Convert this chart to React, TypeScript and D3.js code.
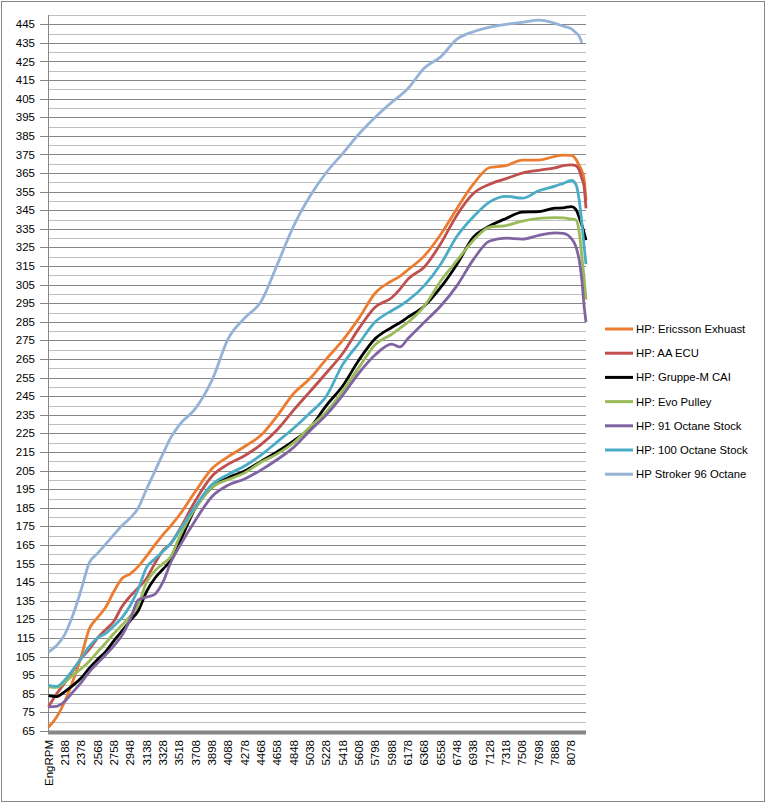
import { useEffect } from 'react'
import * as d3 from 'd3'

// engine rpm of each sample (shared by all runs)
const rpm = [
  1998, 2093, 2188, 2283, 2378, 2473, 2568, 2663, 2758, 2853, 2948, 3043, 3138, 3233, 3328, 3423,
  3518, 3708, 3898, 4088, 4278, 4468, 4658, 4848, 5038, 5228, 5418, 5608, 5798, 5988, 6083, 6178,
  6368, 6558, 6748, 6938, 7128, 7318, 7508, 7698, 7888, 7983, 8078, 8130, 8170, 8200, 8225, 8248,
]

const ericsson = [
  67, 72.5, 81, 92, 105, 120, 126, 131.5, 140, 147, 149.5, 153.5, 159, 165, 170.5, 175.5,
  181, 194, 206, 212.5, 218, 224, 234.5, 246.5, 254.5, 265, 275, 287, 300.5, 307, 309.5, 313,
  320.5, 332, 346, 359, 368, 369, 372, 372, 374, 374.7, 374.5, 372.5, 369, 366, 362, 350,
]
const aaEcu = [
  78, 85, 91, 97.5, 104, 109, 115, 119.5, 124, 132, 137.5, 142, 147, 155, 162, 166,
  173, 189, 202, 208.5, 213, 219, 227, 237.5, 247.5, 257.5, 268, 281.5, 293, 298, 302.5, 308,
  314.5, 327, 342.5, 354, 359, 362, 365, 366.5, 367.8, 369, 369.4, 369, 366.5, 362, 358, 346,
]
const gruppeM = [
  84, 83.5, 86.2, 89.5, 93.5, 98.8, 103.5, 107.7, 113.5, 118.8, 124.3, 129.8, 140, 147, 152, 157,
  166, 185, 196, 201.2, 204.8, 210, 215.2, 221, 228, 240, 250.5, 264.5, 276, 282, 284.5, 287.5,
  293.5, 303.5, 316, 330.5, 336.5, 340.6, 344, 344.3, 346.1, 346.3, 347, 345.5, 341, 337, 333, 329,
]
const evoPulley = [
  88.8, 88.5, 91.3, 95, 98.5, 102.5, 107.5, 112.3, 117.4, 122, 126.8, 133, 145, 151, 155, 159,
  169, 185, 196, 200.2, 203.8, 209.5, 214, 220, 228.5, 236.5, 247.8, 260.5, 272.8, 278.3, 281.5, 284.8,
  293.5, 307, 318, 328.8, 336, 336.8, 339.2, 340.6, 341.1, 340.9, 340.3, 339.8, 333, 320, 309, 297,
]
const octane91 = [
  78, 78.3, 81, 86, 91, 96.8, 101.5, 106, 110.8, 116.5, 125, 135.5, 137, 138.5, 145, 156,
  164, 178.5, 191, 197.2, 200.5, 205.3, 211, 217.5, 226.5, 235, 245.5, 257.5, 267.3, 273, 271.5, 276,
  284.8, 293.5, 304.5, 318.5, 328.5, 330, 329.5, 331.5, 332.8, 332.6, 329.8, 325.5, 318, 307.5, 294, 285,
]
const octane100 = [
  89.5, 89, 92.5, 98, 104, 110.5, 115, 117.5, 121.5, 126, 132.5, 141.5, 153, 157.5, 161.5, 166,
  172.5, 186, 197.5, 203, 207.5, 213.3, 220.5, 227.8, 236, 245, 262, 273.5, 285, 291, 293.5, 296.5,
  304.5, 316, 331, 341.5, 349.5, 352.5, 351.5, 355.5, 358, 359.5, 361, 359, 350, 338, 326, 316,
]
// the stroker run stops a little earlier
const stroker96 = [
  107.5, 111, 117, 127.5, 141, 155.5, 160.5, 165.5, 170.5, 175.5, 179.5, 185, 195, 204.5, 214, 223,
  229.5, 238.5, 253.5, 276, 287, 295.8, 315.8, 336.5, 352.5, 365.3, 375.5, 386, 395, 403, 406.5, 410.5,
  421.5, 427.5, 437, 441, 443.5, 445, 446, 447.2, 445.5, 444, 442.5, 440.5, 438.5, 435,
]

const seriesNames = [
  'HP: Ericsson Exhuast',
  'HP: AA ECU',
  'HP: Gruppe-M CAI',
  'HP: Evo Pulley',
  'HP: 91 Octane Stock',
  'HP: 100 Octane Stock',
  'HP Stroker 96 Octane',
]
const seriesValues = [ericsson, aaEcu, gruppeM, evoPulley, octane91, octane100, stroker96]
const seriesColors = ['#EC7C30', '#C0504D', '#000000', '#9BBB59', '#8064A2', '#4BACC6', '#95B3D7']

const xTickRpm = d3.range(1998, 8079, 190)
const xTickLabels = xTickRpm.map((r, i) => (i === 0 ? 'EngRPM' : String(r)))
const yMajor = d3.range(65, 446, 10)
const yMinor = d3.range(70, 451, 10)

const W = 767
const H = 804
const FONT = '"Liberation Sans", Arial, sans-serif'

export default function App() {
  useEffect(() => {
    document.body.style.margin = '0'
  }, [])

  const x = d3.scaleLinear().domain([1998, 8248]).range([48.5, 586])
  const y = d3.scaleLinear().domain([65, 450]).range([731, 15])
  const [x0, x1] = x.range()

  const line = (vals: number[]) =>
    d3.line<number>()
      .defined((_, i) => i < vals.length)
      .x((_, i) => x(rpm[i]))
      .y((d) => y(d))
      .curve(d3.curveMonotoneX)(vals)

  return (
    <svg width={W} height={H} style={{ display: 'block', background: '#fff' }} fontFamily={FONT}>
      <rect x={1.5} y={1.5} width={763} height={800} fill="#fff" stroke="#868686" />

      {/* gridlines */}
      {yMinor.map((v) => (
        <line key={'mi' + v} x1={x0} x2={x1} y1={Math.round(y(v)) + 0.5} y2={Math.round(y(v)) + 0.5} stroke="#C0C0C0" />
      ))}
      {yMajor.map((v) => (
        <line key={'ma' + v} x1={40} x2={x1} y1={Math.round(y(v)) + 0.5} y2={Math.round(y(v)) + 0.5} stroke="#868686" />
      ))}

      {/* y axis */}
      <line x1={x0} x2={x0} y1={y(450)} y2={y(65)} stroke="#868686" />
      {yMajor.map((v) => (
        <text key={'yl' + v} x={35} y={y(v)} dy="0.35em" textAnchor="end" fontSize={11.5} fill="#000">
          {v}
        </text>
      ))}

      {/* series */}
      {seriesValues.map((vals, i) => (
        <path key={seriesNames[i]} d={line(vals) ?? ''} fill="none" stroke={seriesColors[i]} strokeWidth={2.8} strokeLinejoin="round" />
      ))}

      {/* category axis */}
      <line x1={x0 - 0.5} x2={x1} y1={y(65) + 1.5} y2={y(65) + 1.5} stroke="#868686" strokeWidth={4} />
      {xTickRpm.map((r, i) => (
        <text
          key={'xl' + r}
          transform={`translate(${x(r)},740) rotate(-90)`}
          dy="0.35em"
          textAnchor="end"
          fontSize={11.5}
          fill="#000"
        >
          {xTickLabels[i]}
        </text>
      ))}

      {/* legend */}
      {seriesNames.map((name, i) => {
        const ly = 329 + i * 24.2
        return (
          <g key={'lg' + name}>
            <line x1={605} x2={633} y1={ly} y2={ly} stroke={seriesColors[i]} strokeWidth={3} />
            <text x={636} y={ly} dy="0.35em" fontSize={11.3} fill="#000">
              {name}
            </text>
          </g>
        )
      })}
    </svg>
  )
}
